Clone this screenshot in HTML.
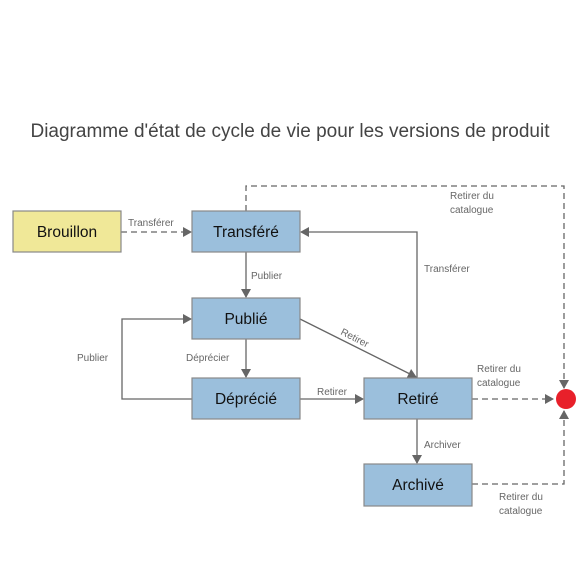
<!DOCTYPE html>
<html><head><meta charset="utf-8"><style>
body{margin:0;background:#fff;}
svg text{font-family:"Liberation Sans",sans-serif;}
</style></head><body>
<svg width="580" height="580" xmlns="http://www.w3.org/2000/svg">
<defs>
<marker id="a" markerWidth="10" markerHeight="10" refX="8" refY="5" orient="auto" markerUnits="userSpaceOnUse">
<path d="M0,0 L9,5 L0,10 z" fill="#666"/></marker>
</defs>
<text x="290" y="137" text-anchor="middle" font-size="19" fill="#444">Diagramme d'état de cycle de vie pour les versions de produit</text>
<g stroke="#666" stroke-width="1.3" fill="none">
<path d="M246,211 V186 H564 V388" stroke-dasharray="6,4" marker-end="url(#a)"/>
<path d="M472,484 H564 V411" stroke-dasharray="6,4" marker-end="url(#a)"/>
<path d="M472,399 H553" stroke-dasharray="6,4" marker-end="url(#a)"/>
<path d="M121,232 H191" stroke-dasharray="6,4" marker-end="url(#a)"/>
<path d="M246,252 V297" marker-end="url(#a)"/>
<path d="M246,339 V377" marker-end="url(#a)"/>
<path d="M192,399 H122 V319 H191" marker-end="url(#a)"/>
<path d="M300,399 H363" marker-end="url(#a)"/>
<path d="M300,319 L416,377" marker-end="url(#a)"/>
<path d="M417,378 V232 H301" marker-end="url(#a)"/>
<path d="M417,419 V463" marker-end="url(#a)"/>
</g>
<g stroke="#888" stroke-width="1.2">
<rect x="13" y="211" width="108" height="41" fill="#f0e898"/>
<rect x="192" y="211" width="108" height="41" fill="#9bbfdc"/>
<rect x="192" y="298" width="108" height="41" fill="#9bbfdc"/>
<rect x="192" y="378" width="108" height="41" fill="#9bbfdc"/>
<rect x="364" y="378" width="108" height="41" fill="#9bbfdc"/>
<rect x="364" y="464" width="108" height="42" fill="#9bbfdc"/>
</g>
<circle cx="566" cy="399" r="10" fill="#e8202a"/>
<g font-size="15.5" fill="#111" text-anchor="middle">
<text x="67" y="237">Brouillon</text>
<text x="246" y="237">Transféré</text>
<text x="246" y="324">Publié</text>
<text x="246" y="404">Déprécié</text>
<text x="418" y="404">Retiré</text>
<text x="418" y="490">Archivé</text>
</g>
<g font-size="10" fill="#666">
<text x="128" y="226">Transférer</text>
<text x="251" y="279">Publier</text>
<text x="186" y="361">Déprécier</text>
<text x="77" y="361">Publier</text>
<text x="317" y="395">Retirer</text>
<text x="424" y="272">Transférer</text>
<text x="424" y="448">Archiver</text>
<text x="450" y="199">Retirer du</text>
<text x="450" y="213">catalogue</text>
<text x="477" y="372">Retirer du</text>
<text x="477" y="386">catalogue</text>
<text x="499" y="500">Retirer du</text>
<text x="499" y="514">catalogue</text>
<text x="0" y="0" transform="translate(340,334) rotate(27)">Retirer</text>
</g>
</svg>
</body></html>
